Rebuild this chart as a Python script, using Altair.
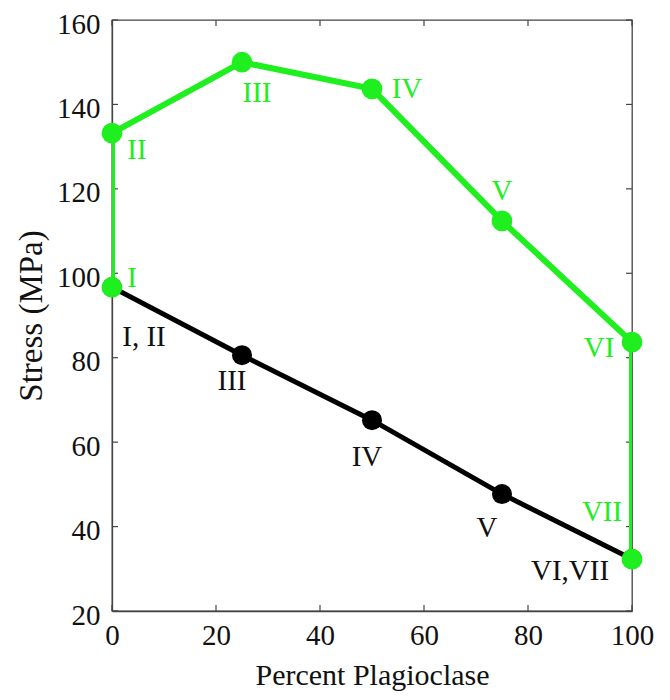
import altair as alt
import pandas as pd

# ---- data ----
green_x = [0, 0, 25, 50, 75, 100, 100]
green_y = [96.7, 133.2, 150.0, 143.7, 112.4, 83.7, 32.3]
green_lab = ["I", "II", "III", "IV", "V", "VI", "VII"]

black_x = [0, 25, 50, 75, 100]
black_y = [96.7, 80.6, 65.2, 47.7, 32.3]
black_lab = ["I, II", "III", "IV", "V", "VI,VII"]

x_ticks = [0, 20, 40, 60, 80, 100]
y_ticks = [20, 40, 60, 80, 100, 120, 140, 160]

# ---- styling / layout ----
W, H = 520, 591
GREEN = "#1fee1f"
FONT = "Liberation Serif"
TICK = 6
green_off = [(20, -9), (25, 17), (15, 31), (35, 0), (0, -30), (-33, 6), (-30, -47)]
black_off = [(32, 50), (-10, 26), (-5, 37), (-15, 34), (-62, 12)]

gdf = pd.DataFrame({"x": green_x, "y": green_y, "lab": green_lab, "i": range(len(green_x))})
bdf = pd.DataFrame({"x": black_x, "y": black_y, "lab": black_lab, "i": range(len(black_x))})
xt = pd.DataFrame({"x": x_ticks})
yt = pd.DataFrame({"y": y_ticks})

xs = alt.Scale(domain=[0, 100], nice=False, zero=False)
ys = alt.Scale(domain=[20, 160], nice=False, zero=False)

xaxis = alt.Axis(
    values=x_ticks, title="Percent Plagioclase", tickSize=0, labelPadding=10,
    labelFontSize=29, titleFontSize=30,
    titleFontWeight="normal", titleBaseline="alphabetic", titleY=73,
    labelColor="#111", titleColor="#111",
    domainColor="#444", domainWidth=1.3, grid=False, labelFlush=False)
yaxis = alt.Axis(
    values=y_ticks, title="Stress (MPa)", tickSize=0, labelPadding=12, labelOffset=4,
    labelFontSize=29, titleFontSize=33,
    titleFontWeight="normal", titlePadding=8, labelColor="#111", titleColor="#111",
    domainColor="#444", domainWidth=1.3, grid=False, labelFlush=False)

X = alt.X("x:Q", scale=xs, axis=xaxis)
Y = alt.Y("y:Q", scale=ys, axis=yaxis)

black_line = alt.Chart(bdf).mark_line(color="black", strokeWidth=5, clip=True).encode(
    x=X, y=Y, order="i:Q")
black_pts = alt.Chart(bdf).mark_point(filled=True, color="black", size=400, opacity=1).encode(
    x=X, y=Y)
green_line = alt.Chart(gdf).mark_line(color=GREEN, strokeWidth=6, clip=True).encode(
    x=X, y=Y, order="i:Q")
green_pts = alt.Chart(gdf).mark_point(filled=True, color=GREEN, size=430, opacity=1).encode(
    x=X, y=Y)

labels = []
for k, (dx, dy) in enumerate(green_off):
    labels.append(alt.Chart(gdf.iloc[[k]]).mark_text(
        color=GREEN, font=FONT, fontSize=29, dx=dx, dy=dy, align="center", baseline="middle"
    ).encode(x=X, y=Y, text="lab:N"))
for k, (dx, dy) in enumerate(black_off):
    labels.append(alt.Chart(bdf.iloc[[k]]).mark_text(
        color="#111", font=FONT, fontSize=29, dx=dx, dy=dy, align="center", baseline="middle"
    ).encode(x=X, y=Y, text="lab:N"))

tick_style = dict(color="#444", strokeWidth=1.2)
xb = alt.Chart(xt).mark_rule(**tick_style).encode(
    x=X, y=alt.value(H), y2=alt.value(H - TICK))
xtop = alt.Chart(xt).mark_rule(**tick_style).encode(
    x=X, y=alt.value(0), y2=alt.value(TICK))
yl = alt.Chart(yt).mark_rule(**tick_style).encode(
    y=Y, x=alt.value(0), x2=alt.value(TICK))
yr = alt.Chart(yt).mark_rule(**tick_style).encode(
    y=Y, x=alt.value(W - TICK), x2=alt.value(W))

chart = alt.layer(
    black_line, xb, xtop, yl, yr, black_pts, green_line, green_pts, *labels
).properties(
    width=W, height=H,
    padding={"left": 104, "top": 12, "right": 30, "bottom": 81},
    autosize=alt.AutoSizeParams(type="none"),
    background="white",
).configure(
    font=FONT,
    style={"guide-label": {"font": FONT}, "guide-title": {"font": FONT}},
).configure_axis(
    labelFont=FONT, titleFont=FONT
).configure_axisX(
    labelFont=FONT, titleFont=FONT
).configure_axisY(
    labelFont=FONT, titleFont=FONT
).configure_view(stroke="#444", strokeWidth=1.3)

chart.save("out.html", embed_options={"renderer": "svg", "actions": False})
